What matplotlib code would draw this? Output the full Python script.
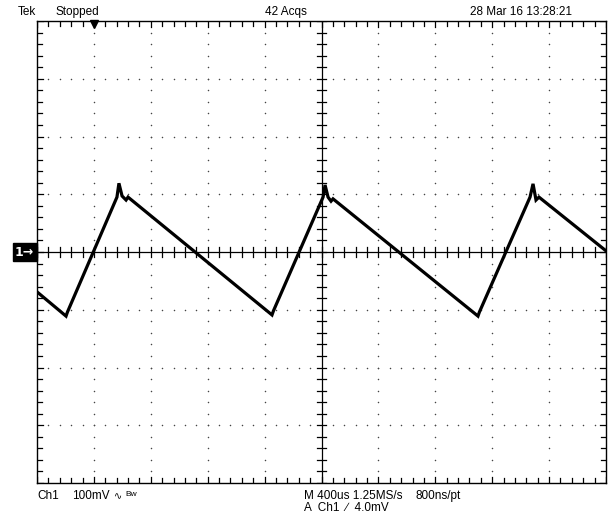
import numpy as np
import matplotlib.pyplot as plt

# scope settings
us_per_div = 400
mv_per_div = 100
n_xdiv = 10
n_ydiv = 8

# captured trace: time (us from left edge) and Ch1 voltage (mV)
time_us = [0, 204, 214, 562, 576, 598, 626, 640, 1652, 1662, 2011, 2025,
           2046, 2067, 2081, 3100, 3110, 3466, 3487, 3508, 3529, 4000]
volts_mv = [-69, -111, -104, 95, 119, 97, 90, 95, -109, -102, 95, 116,
            95, 88, 92, -111, -104, 95, 118, 90, 95, 2]

header = ["Tek", "Stopped", "42 Acqs", "28 Mar 16 13:28:21"]
footer = ["Ch1", "100mV", "M 400us 1.25MS/s", "800ns/pt", "A  Ch1  \u2215  4.0mV"]

plt.rcParams['font.family'] = ['Liberation Sans Narrow', 'Liberation Sans', 'DejaVu Sans']

fig = plt.figure(figsize=(6.1, 5.14), dpi=100)
ax = fig.add_axes([37 / 610, 31 / 514, 569 / 610, 462 / 514])
x_max = n_xdiv * us_per_div
y_half = n_ydiv / 2 * mv_per_div
ax.set_xlim(0, x_max)
ax.set_ylim(-y_half, y_half)
ax.set_xticks([])
ax.set_yticks([])
for s in ax.spines.values():
    s.set_linewidth(1.0)
    s.set_color("black")

# dotted graticule
sub_x = np.arange(0, x_max + 1, us_per_div / 5)
sub_y = np.arange(-y_half, y_half + 1, mv_per_div / 5)
for gx in np.arange(us_per_div, x_max, us_per_div):
    if gx == x_max / 2:
        continue
    ax.scatter(np.full(len(sub_y), gx), sub_y, s=1.2, color="#444444", lw=0, zorder=1)
for gy in np.arange(-y_half + mv_per_div, y_half, mv_per_div):
    if gy == 0:
        continue
    ax.scatter(sub_x, np.full(len(sub_x), gy), s=1.2, color="#444444", lw=0, zorder=1)

# centre cross with minor ticks
ax.axvline(x_max / 2, color="black", lw=0.9, zorder=2)
ax.axhline(0, color="black", lw=0.9, zorder=2)
tx = 0.08 * us_per_div
ty = 0.08 * mv_per_div
for v in sub_y:
    ax.plot([x_max / 2 - tx, x_max / 2 + tx], [v, v], color="black", lw=0.9, zorder=2)
for v in sub_x:
    ax.plot([v, v], [-ty, ty], color="black", lw=0.9, zorder=2)

# edge ticks pointing inward
for v in sub_x:
    k = 1.4 if v % us_per_div == 0 else 1.0
    ax.plot([v, v], [y_half, y_half - ty * k], color="black", lw=0.9, zorder=2)
    ax.plot([v, v], [-y_half, -y_half + ty * k], color="black", lw=0.9, zorder=2)
for v in sub_y:
    k = 1.4 if v % mv_per_div == 0 else 1.0
    ax.plot([0, tx * k], [v, v], color="black", lw=0.9, zorder=2)
    ax.plot([x_max, x_max - tx * k], [v, v], color="black", lw=0.9, zorder=2)

# waveform
ax.plot(time_us, volts_mv, color="black", lw=2.3, solid_joinstyle="miter", zorder=3)

# trigger position marker
ax.plot([us_per_div], [y_half - 6], marker="v", color="black", ms=6, clip_on=False, zorder=4)

# ground reference marker
fig.text(15 / 610, 1 - 252 / 514, "1\u2192", color="white", fontsize=9, va="center",
         ha="left", fontweight="bold", family="DejaVu Sans",
         bbox=dict(boxstyle="square,pad=0.2", fc="black", ec="black"))

fs = 8.5
fig.text(18 / 610, 1 - 12 / 514, header[0], fontsize=fs, va="center")
fig.text(55 / 610, 1 - 12 / 514, header[1], fontsize=fs, va="center")
fig.text(265 / 610, 1 - 12 / 514, header[2], fontsize=fs, va="center")
fig.text(470 / 610, 1 - 12 / 514, header[3], fontsize=fs, va="center")

fig.text(37 / 610, 1 - 496 / 514, footer[0], fontsize=fs, va="center")
fig.text(72 / 610, 1 - 496 / 514, footer[1], fontsize=fs, va="center")
fig.text(114 / 610, 1 - 496 / 514, "\u223f", fontsize=7, va="center", family="DejaVu Sans")
fig.text(125 / 610, 1 - 494 / 514, "Bw", fontsize=6, va="center")
fig.text(304 / 610, 1 - 496 / 514, footer[2], fontsize=fs, va="center")
fig.text(416 / 610, 1 - 496 / 514, footer[3], fontsize=fs, va="center")
fig.text(304 / 610, 1 - 508 / 514, footer[4], fontsize=fs, va="center")

fig.savefig("out.png", dpi=100)
